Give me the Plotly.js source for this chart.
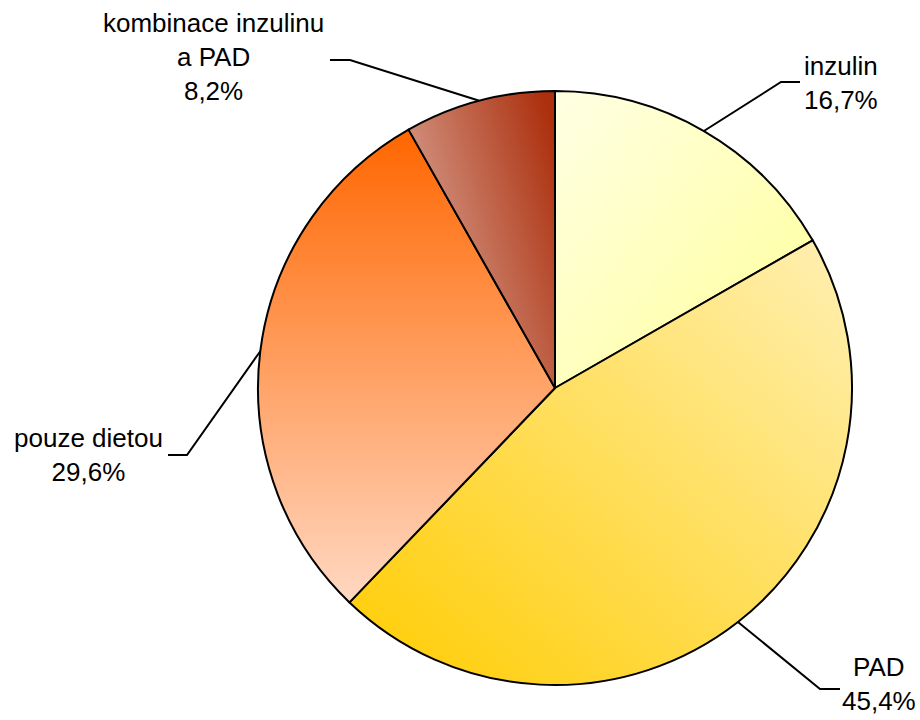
<!DOCTYPE html>
<html>
<head>
<meta charset="utf-8">
<script src="https://cdn.plot.ly/plotly-3.0.1.min.js"></script>
<style>html,body{margin:0;padding:0;background:#fff;}#chart{width:920px;height:720px;}</style>
</head>
<body>
<div id="chart"></div>
<script>
// ---- data ----
const categories = ['inzulin', 'PAD', 'pouze dietou', 'kombinace inzulinu<br>a PAD'];
const shares = [16.7, 45.4, 29.6, 8.2];

// ---- layout helpers (pixels) ----
const W = 920, H = 720;
const CX = 555, CY = 388, R = 297;
const labelPos = [[841, 83], [879, 684], [88, 455], [213, 57]];
const elbows = [[781, 82], [820, 689], [187, 455], [350, 60]];
const lineEnds = [800, 840, 168, 330];
const gradients = [
  {x1: 0, y1: 0, x2: 1, y2: 1, c1: '#FFFFE4', c2: '#FFFF99'},
  {x1: 1, y1: 0, x2: 0, y2: 1, c1: '#FFF0B4', c2: '#FFCC00'},
  {x1: 0, y1: 0, x2: 0, y2: 1, c1: '#FF6600', c2: '#FFD8C2'},
  {x1: 0, y1: 0.75, x2: 1, y2: 0.15, c1: '#DCAEA0', c2: '#AC300E'}
];

const px = x => x / W;
const py = y => 1 - y / H;

const total = shares.reduce((a, b) => a + b, 0);
const shapes = [];
const annotations = [];
let cum = 0;
shares.forEach((v, i) => {
  const mid = (cum + v / 2) / total * 2 * Math.PI;
  cum += v;
  const sx = CX + R * Math.sin(mid), sy = CY - R * Math.cos(mid);
  const [ex, ey] = elbows[i];
  shapes.push({
    type: 'path', xref: 'paper', yref: 'paper',
    path: `M${px(sx)},${py(sy)} L${px(ex)},${py(ey)} L${px(lineEnds[i])},${py(ey)}`,
    line: {color: '#000', width: 2}
  });
  annotations.push({
    xref: 'paper', yref: 'paper', x: px(labelPos[i][0]), y: py(labelPos[i][1]),
    xanchor: 'center', yanchor: 'middle', showarrow: false, align: 'center',
    text: categories[i] + '<br>' + v.toFixed(1).replace('.', ',') + '%',
    font: {family: 'Liberation Sans, Arial, sans-serif', size: 26, color: '#000'}
  });
});

const trace = {
  type: 'pie',
  values: shares,
  labels: categories,
  sort: false,
  direction: 'clockwise',
  rotation: 0,
  textinfo: 'none',
  hoverinfo: 'label+percent',
  marker: {colors: gradients.map(g => g.c2), line: {color: '#000', width: 2}},
  domain: {x: [px(CX - R), px(CX + R)], y: [py(CY + R), py(CY - R)]},
  showlegend: false
};

const layout = {
  width: W, height: H,
  margin: {l: 0, r: 0, t: 0, b: 0},
  paper_bgcolor: '#fff',
  plot_bgcolor: '#fff',
  showlegend: false,
  shapes: shapes,
  annotations: annotations,
  font: {family: 'Liberation Sans, Arial, sans-serif'}
};

Plotly.newPlot('chart', [trace], layout, {displayModeBar: false, staticPlot: true}).then(gd => {
  const NS = 'http://www.w3.org/2000/svg';
  const svg = gd.querySelector('svg.main-svg');
  let defs = svg.querySelector('defs');
  if (!defs) { defs = document.createElementNS(NS, 'defs'); svg.insertBefore(defs, svg.firstChild); }
  gradients.forEach((g, i) => {
    const lg = document.createElementNS(NS, 'linearGradient');
    lg.setAttribute('id', 'sliceGrad' + i);
    lg.setAttribute('x1', g.x1); lg.setAttribute('y1', g.y1);
    lg.setAttribute('x2', g.x2); lg.setAttribute('y2', g.y2);
    [[0, g.c1], [1, g.c2]].forEach(([o, c]) => {
      const s = document.createElementNS(NS, 'stop');
      s.setAttribute('offset', o);
      s.setAttribute('stop-color', c);
      lg.appendChild(s);
    });
    defs.appendChild(lg);
  });
  gd.querySelectorAll('g.slice path.surface').forEach((p, i) => {
    p.style.fill = 'url(#sliceGrad' + i + ')';
  });
});
</script>
</body>
</html>
